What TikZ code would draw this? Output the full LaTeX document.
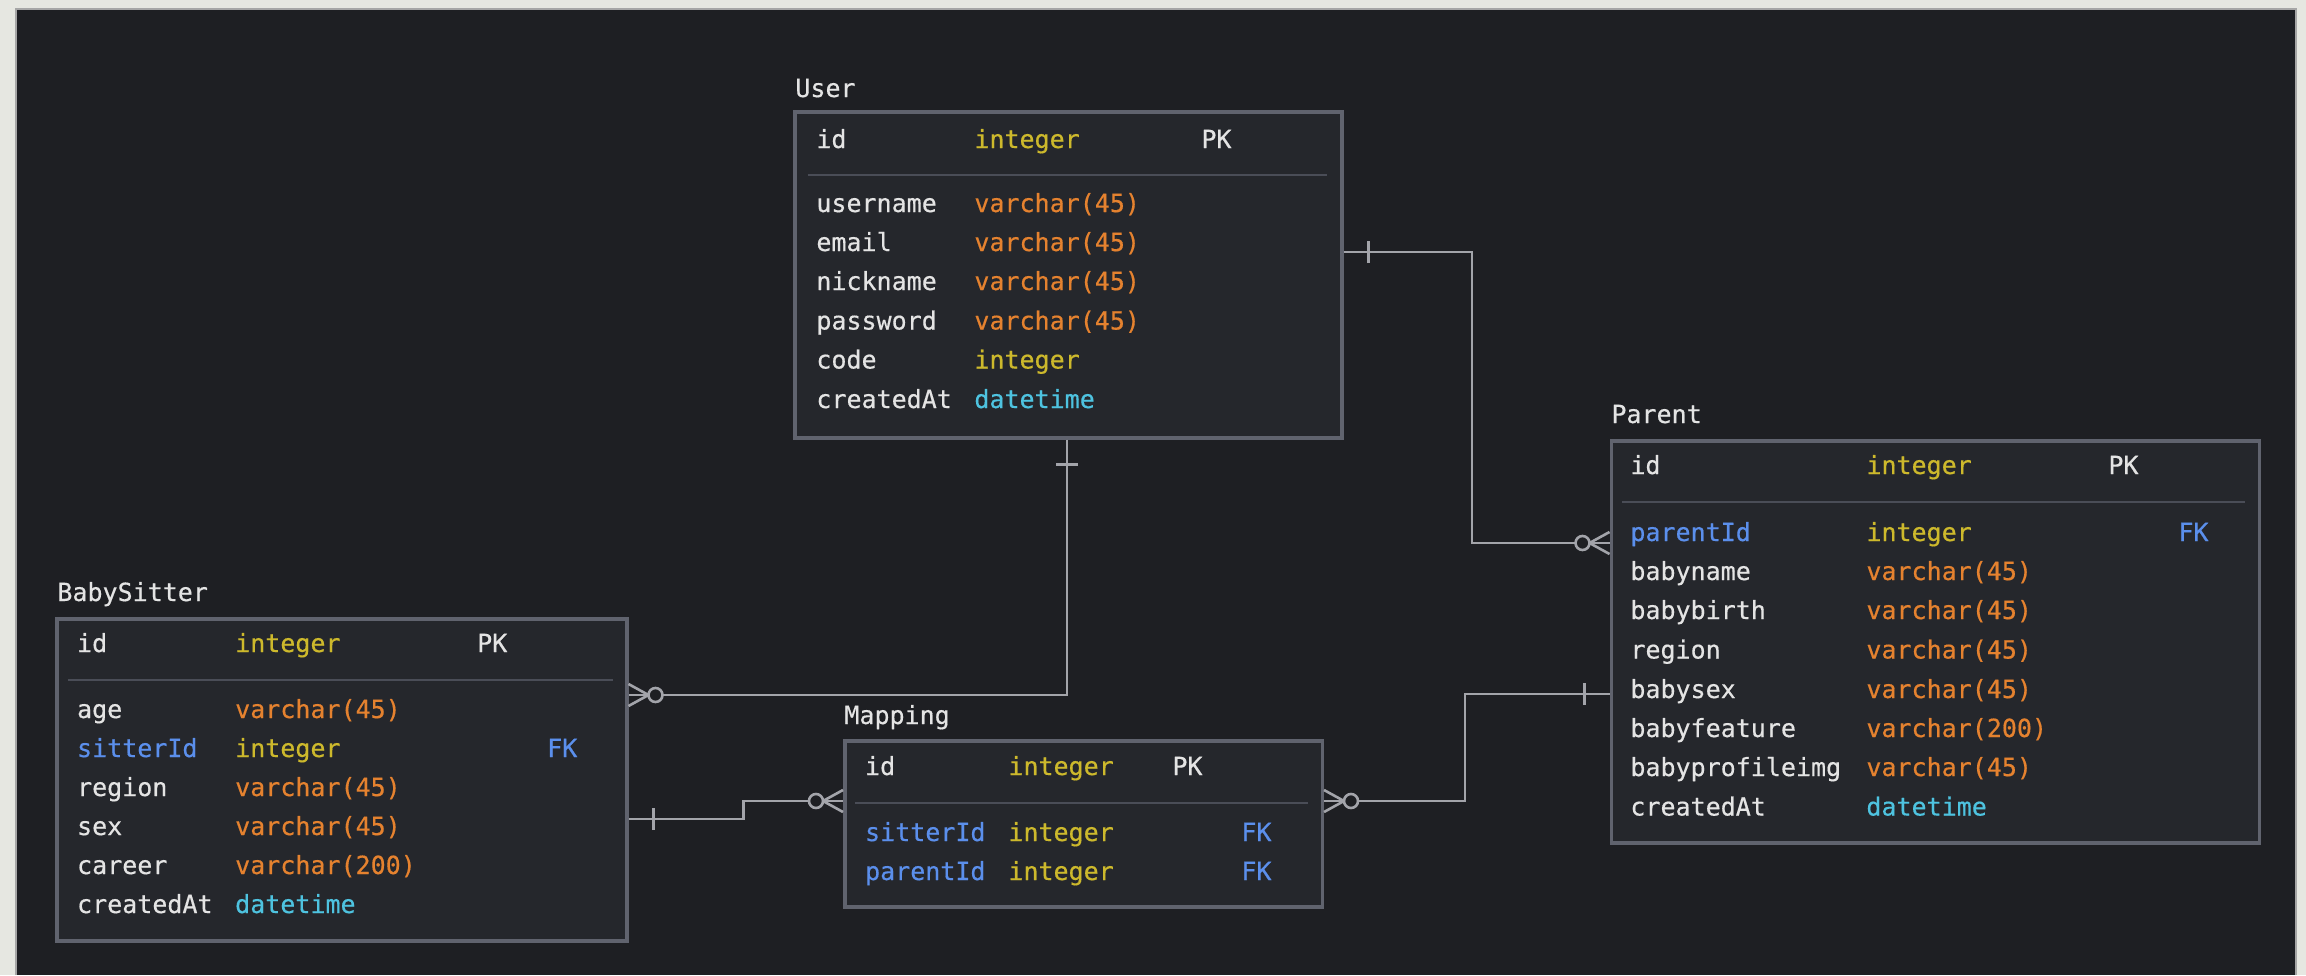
\documentclass[tikz,border=0pt]{standalone}
\usepackage{fontspec}
\setmonofont[FakeBold=0.45]{DejaVu Sans Mono}
\definecolor{outerbg}{HTML}{E6E7E1}
\definecolor{darkbg}{HTML}{1E1F23}
\definecolor{boxfill}{HTML}{25272C}
\definecolor{boxline}{HTML}{60636E}
\definecolor{sepline}{HTML}{4A4D57}
\definecolor{connline}{HTML}{A3A4AA}
\definecolor{nmcol}{HTML}{E4E4E4}
\definecolor{intcol}{HTML}{CDB92C}
\definecolor{varcol}{HTML}{E5822F}
\definecolor{dtcol}{HTML}{4EC3E0}
\definecolor{fkcol}{HTML}{5B8FEC}
\tikzset{
  tbl/.style={draw=boxline, fill=boxfill, line width=1.75pt, anchor=north west, inner sep=0pt},
  sep/.style={draw=sepline, line width=1pt},
  conn/.style={draw=connline, line width=1.3pt},
  txt/.style={anchor=base west, inner sep=0pt, text=nmcol},
  ttl/.style={txt},
  fk/.style={txt, text=fkcol},
  tint/.style={txt, text=intcol},
  tvar/.style={txt, text=varcol},
  tdt/.style={txt, text=dtcol},
  zm/.pic={\draw[conn] (0,5.5pt) -- (10pt,0) -- (0,-5.5pt); \draw[conn, fill=darkbg] (13.5pt,0) circle (3.5pt);},
  one/.pic={\draw[conn] (12.5pt,-5.5pt) -- (12.5pt,5.5pt);}
}
\begin{document}
\begin{tikzpicture}[x=0.5pt,y=-0.5pt,font=\ttfamily\fontsize{12.5}{15}\selectfont]
\useasboundingbox (0,0) rectangle (2306,975);
\fill[outerbg] (0,0) rectangle (2306,975);
\fill[darkbg] (16,9) rectangle (2296,975);
\draw[color=gray!70, line width=0.6pt] (16,975) -- (16,9) -- (2296,9) -- (2296,975);

% ---------- boxes ----------
\node[tbl, minimum width=273.5pt, minimum height=163pt] (user) at (793,110) {};
\node[tbl, minimum width=324pt, minimum height=201pt] (parent) at (1609.5,439) {};
\node[tbl, minimum width=285pt, minimum height=161pt] (sitter) at (55,617) {};
\node[tbl, minimum width=238.75pt, minimum height=83pt] (mapping) at (843,739) {};

% ---------- User ----------
\node[ttl] (userT) at (795,97) {User};
\node[txt] (u1) at (816,148) {id};
\node[tint] (u1t) at (974,148) {integer};
\node[txt] (u1k) at (1201,148) {PK};
\draw[sep] (807.5,175) -- (1326.5,175);
\node[txt] (u2) at (816,212) {username};
\node[tvar] (u2t) at (974,212) {varchar(45)};
\node[txt] (u3) at (816,251) {email};
\node[tvar] (u3t) at (974,251) {varchar(45)};
\node[txt] (u4) at (816,290) {nickname};
\node[tvar] (u4t) at (974,290) {varchar(45)};
\node[txt] (u5) at (816,329.5) {password};
\node[tvar] (u5t) at (974,329.5) {varchar(45)};
\node[txt] (u6) at (816,368.5) {code};
\node[tint] (u6t) at (974,368.5) {integer};
\node[txt] (u7) at (816,408) {createdAt};
\node[tdt] (u7t) at (974,408) {datetime};

% ---------- Parent ----------
\node[ttl] (parentT) at (1611,423) {Parent};
\node[txt] (p1) at (1630,474) {id};
\node[tint] (p1t) at (1866,474) {integer};
\node[txt] (p1k) at (2108,474) {PK};
\draw[sep] (1622,502) -- (2245,502);
\node[fk] (p2) at (1630,541) {parentId};
\node[tint] (p2t) at (1866,541) {integer};
\node[fk] (p2k) at (2178,541) {FK};
\node[txt] (p3) at (1630,580) {babyname};
\node[tvar] (p3t) at (1866,580) {varchar(45)};
\node[txt] (p4) at (1630,619) {babybirth};
\node[tvar] (p4t) at (1866,619) {varchar(45)};
\node[txt] (p5) at (1630,658.5) {region};
\node[tvar] (p5t) at (1866,658.5) {varchar(45)};
\node[txt] (p6) at (1630,698) {babysex};
\node[tvar] (p6t) at (1866,698) {varchar(45)};
\node[txt] (p7) at (1630,737) {babyfeature};
\node[tvar] (p7t) at (1866,737) {varchar(200)};
\node[txt] (p8) at (1630,776) {babyprofileimg};
\node[tvar] (p8t) at (1866,776) {varchar(45)};
\node[txt] (p9) at (1630,815.5) {createdAt};
\node[tdt] (p9t) at (1866,815.5) {datetime};

% ---------- BabySitter ----------
\node[ttl] (sitterT) at (57,601) {BabySitter};
\node[txt] (s1) at (76.7,652) {id};
\node[tint] (s1t) at (234.8,652) {integer};
\node[txt] (s1k) at (476.8,652) {PK};
\draw[sep] (67.6,680) -- (613,680);
\node[txt] (s2) at (76.7,718) {age};
\node[tvar] (s2t) at (234.8,718) {varchar(45)};
\node[fk] (s3) at (76.7,757) {sitterId};
\node[tint] (s3t) at (234.8,757) {integer};
\node[fk] (s3k) at (546.8,757) {FK};
\node[txt] (s4) at (76.7,796) {region};
\node[tvar] (s4t) at (234.8,796) {varchar(45)};
\node[txt] (s5) at (76.7,835) {sex};
\node[tvar] (s5t) at (234.8,835) {varchar(45)};
\node[txt] (s6) at (76.7,874) {career};
\node[tvar] (s6t) at (234.8,874) {varchar(200)};
\node[txt] (s7) at (76.7,913) {createdAt};
\node[tdt] (s7t) at (234.8,913) {datetime};

% ---------- Mapping ----------
\node[ttl] (mappingT) at (844,724) {Mapping};
\node[txt] (m1) at (864.7,775) {id};
\node[tint] (m1t) at (1008,775) {integer};
\node[txt] (m1k) at (1172,775) {PK};
\draw[sep] (855,803) -- (1308,803);
\node[fk] (m2) at (864.7,841) {sitterId};
\node[tint] (m2t) at (1008,841) {integer};
\node[fk] (m2k) at (1241,841) {FK};
\node[fk] (m3) at (864.7,880) {parentId};
\node[tint] (m3t) at (1008,880) {integer};
\node[fk] (m3k) at (1241,880) {FK};

% ---------- connectors ----------
\coordinate (uP) at (user.east |- 0,252);
\coordinate (pU) at (parent.west |- 0,543);
\coordinate (uB) at (user.south -| 1067,0);
\coordinate (bU) at (sitter.east |- 0,695);
\coordinate (bM) at (sitter.east |- 0,819);
\coordinate (mB) at (mapping.west |- 0,801);
\coordinate (mP) at (mapping.east |- 0,801);
\coordinate (pM) at (parent.west |- 0,694);

\draw[conn] (uP) -- (uP -| 1472,0) |- (pU);
\draw[conn] (uB) |- (bU);
\draw[conn] (bM) -- (bM -| 743.5,0) |- (mB);
\draw[conn] (mP) -- (mP -| 1465,0) |- (pM);

\pic at (uP) {one};
\pic[rotate=180] at (pU) {zm};
\pic[rotate=-90] at (uB) {one};
\pic at (bU) {zm};
\pic at (bM) {one};
\pic[rotate=180] at (mB) {zm};
\pic at (mP) {zm};
\pic[rotate=180] at (pM) {one};
\end{tikzpicture}
\end{document}
